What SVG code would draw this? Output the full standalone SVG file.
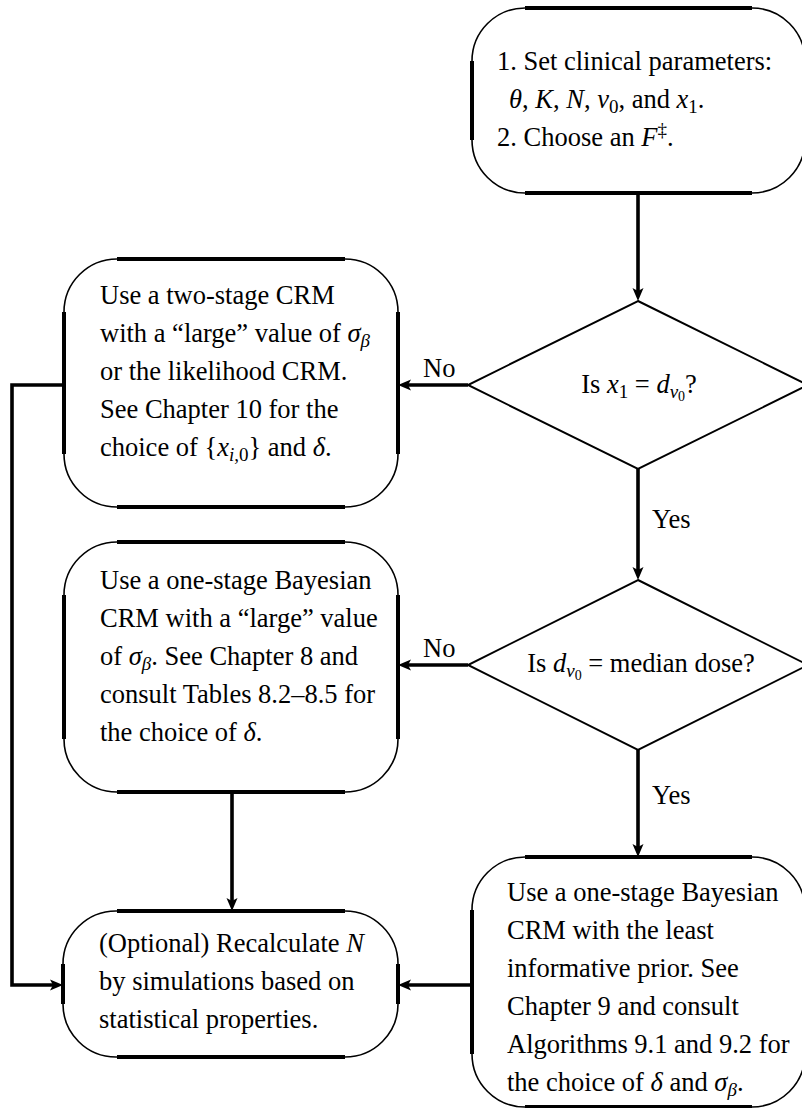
<svg xmlns="http://www.w3.org/2000/svg" width="802" height="1108" viewBox="0 0 802 1108">
<style>
.box{fill:#fff;stroke:#000;stroke-width:1.6}
.edge{fill:none;stroke:#000;stroke-width:4}
.dia{fill:#fff;stroke:#000;stroke-width:2}
.con{fill:none;stroke:#000;stroke-width:3.6}
text{font-family:"Liberation Serif","Times New Roman",serif;font-size:26.5px;fill:#000}
.i{font-style:italic}
.s{font-size:19px}
.ss{font-size:14px}
</style>
<defs>
<marker id="ah" markerUnits="userSpaceOnUse" viewBox="-6 -7 15 14" markerWidth="15" markerHeight="14" refX="0" refY="0" orient="auto">
<path d="M8,0 L-5,-5.5 L-2,0 L-5,5.5 Z" fill="#000"/>
</marker>
</defs>
<rect width="802" height="1108" fill="#fff"/>

<g id="connectors">
<path class="con" d="M638 193 V293" marker-end="url(#ah)"/>
<path class="con" d="M468 385 H406" marker-end="url(#ah)"/>
<path class="con" d="M638 469 V572" marker-end="url(#ah)"/>
<path class="con" d="M468 665 H406" marker-end="url(#ah)"/>
<path class="con" d="M638 750 V849" marker-end="url(#ah)"/>
<path class="con" d="M232 792 V903" marker-end="url(#ah)"/>
<path class="con" d="M64 385 H12 V985 H55" marker-end="url(#ah)"/>
<path class="con" d="M472 985 H406" marker-end="url(#ah)"/>
<text x="423" y="377">No</text>
<text x="423" y="657">No</text>
<text x="652" y="528">Yes</text>
<text x="652" y="804">Yes</text>
</g>

<g id="start">
<rect class="box" x="472" y="8" width="333" height="185" rx="53" ry="53"/>
<path class="edge" d="M525 8 H752 M525 193 H752 M472 61 V140 M805 61 V140"/>
<text x="497" y="70">1. Set clinical parameters:</text>
<text x="509" y="108"><tspan class="i">θ</tspan>, <tspan class="i">K</tspan>, <tspan class="i">N</tspan>, <tspan class="i">ν</tspan><tspan class="s" dy="5">0</tspan><tspan dy="-5">, and </tspan><tspan class="i">x</tspan><tspan class="s" dy="5">1</tspan><tspan dy="-5">.</tspan></text>
<text x="497" y="146">2. Choose an <tspan class="i">F</tspan><tspan class="s" dy="-10">‡</tspan><tspan dy="10">.</tspan></text>
</g>

<g id="decision1">
<polygon class="dia" points="638,301 808,385 638,469 468,385"/>
<text x="639" y="393" text-anchor="middle">Is <tspan class="i">x</tspan><tspan class="s" dy="5">1</tspan><tspan dy="-5"> = </tspan><tspan class="i">d</tspan><tspan class="s i" dy="5">ν</tspan><tspan class="ss" dy="3">0</tspan><tspan dy="-8">?</tspan></text>
</g>

<g id="twostage">
<rect class="box" x="64" y="259" width="334" height="248" rx="53" ry="53"/>
<path class="edge" d="M117 259 H345 M117 507 H345 M64 312 V454 M398 312 V454"/>
<text x="100" y="304">Use a two-stage CRM</text>
<text x="100" y="342">with a “large” value of <tspan class="i">σ</tspan><tspan class="s i" dy="5">β</tspan></text>
<text x="100" y="380">or the likelihood CRM.</text>
<text x="100" y="418">See Chapter 10 for the</text>
<text x="100" y="456">choice of {<tspan class="i">x</tspan><tspan class="s" dy="5"><tspan class="i">i</tspan>,0</tspan><tspan dy="-5">} and </tspan><tspan class="i">δ</tspan>.</text>
</g>

<g id="decision2">
<polygon class="dia" points="638,580 808,665 638,750 468,665"/>
<text x="641" y="672" text-anchor="middle">Is <tspan class="i">d</tspan><tspan class="s i" dy="5">ν</tspan><tspan class="ss" dy="3">0</tspan><tspan dy="-8"> = median dose?</tspan></text>
</g>

<g id="onestage-large">
<rect class="box" x="64" y="542" width="334" height="250" rx="53" ry="53"/>
<path class="edge" d="M117 542 H345 M117 792 H345 M64 595 V739 M398 595 V739"/>
<text x="100" y="589">Use a one-stage Bayesian</text>
<text x="100" y="627">CRM with a “large” value</text>
<text x="100" y="665">of <tspan class="i">σ</tspan><tspan class="s i" dy="5">β</tspan><tspan dy="-5">. See Chapter 8 and</tspan></text>
<text x="100" y="703">consult Tables 8.2–8.5 for</text>
<text x="100" y="741">the choice of <tspan class="i">δ</tspan>.</text>
</g>

<g id="onestage-least">
<rect class="box" x="472" y="857" width="333" height="250" rx="53" ry="53"/>
<path class="edge" d="M525 857 H752 M525 1107 H752 M472 910 V1054 M805 910 V1054"/>
<text x="507" y="901">Use a one-stage Bayesian</text>
<text x="507" y="939">CRM with the least</text>
<text x="507" y="977">informative prior. See</text>
<text x="507" y="1015">Chapter 9 and consult</text>
<text x="507" y="1053">Algorithms 9.1 and 9.2 for</text>
<text x="507" y="1091">the choice of <tspan class="i">δ</tspan> and <tspan class="i">σ</tspan><tspan class="s i" dy="5">β</tspan><tspan dy="-5">.</tspan></text>
</g>

<g id="recalculate">
<rect class="box" x="63" y="911" width="335" height="146" rx="53" ry="53"/>
<path class="edge" d="M117 911 H345 M117 1057 H345 M63 964 V1004 M398 964 V1004"/>
<text x="99" y="952">(Optional) Recalculate <tspan class="i">N</tspan></text>
<text x="99" y="990">by simulations based on</text>
<text x="99" y="1028">statistical properties.</text>
</g>
</svg>
